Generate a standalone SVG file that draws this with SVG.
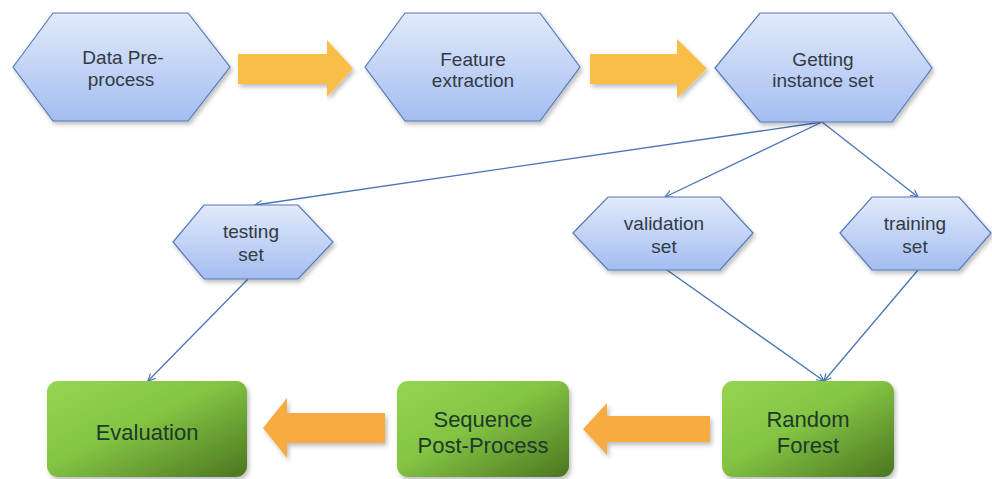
<svg xmlns="http://www.w3.org/2000/svg" width="992" height="479" viewBox="0 0 992 479">
<defs>
  <linearGradient id="hexFill" x1="0" y1="0" x2="0" y2="1">
    <stop offset="0" stop-color="#e2eafb"/>
    <stop offset="1" stop-color="#a3bdf0"/>
  </linearGradient>
  <linearGradient id="boxFill" x1="0" y1="0" x2="1" y2="1">
    <stop offset="0" stop-color="#96d552"/>
    <stop offset="0.45" stop-color="#84c443"/>
    <stop offset="1" stop-color="#4a7620"/>
  </linearGradient>
  <filter id="shadow" x="-10%" y="-10%" width="125%" height="130%">
    <feDropShadow dx="2" dy="3" stdDeviation="2" flood-color="#000" flood-opacity="0.25"/>
  </filter>
  <marker id="open" viewBox="0 0 10 10" refX="9" refY="5" markerWidth="9" markerHeight="9" markerUnits="userSpaceOnUse" orient="auto">
    <path d="M1,1 L9,5 L1,9" fill="none" stroke="#4a74b8" stroke-width="1.3"/>
  </marker>
</defs>
<style>
  .hex { fill: url(#hexFill); stroke: #5579bb; stroke-width: 1.2; filter: url(#shadow); }
  .box { fill: url(#boxFill); filter: url(#shadow); }
  .ht { font-family: "Liberation Sans", Arial, sans-serif; font-size: 19px; fill: #323a46; text-anchor: middle; }
  .bt { font-family: "Liberation Sans", Arial, sans-serif; font-size: 22px; fill: #1c3a2c; text-anchor: middle; }
  .conn { fill: none; stroke: #4a74b8; stroke-width: 1.3; marker-end: url(#open); }
  .arrY { fill: #f9be46; filter: url(#shadow); }
  .arrO { fill: #f7ab40; filter: url(#shadow); }
</style>

<g id="connectors">
  <line class="conn" x1="822" y1="122" x2="255" y2="205"/>
  <line class="conn" x1="822" y1="122" x2="665" y2="197"/>
  <line class="conn" x1="822" y1="122" x2="918" y2="197"/>
  <line class="conn" x1="248" y1="279" x2="148" y2="381"/>
  <line class="conn" x1="667" y1="270" x2="824" y2="381"/>
  <line class="conn" x1="918" y1="270" x2="824" y2="381"/>
</g>

<g id="flow-arrows">
  <polygon class="arrY" points="238,54 327,54 327,40 353,68.5 327,97 327,84 238,84"/>
  <polygon class="arrY" points="590,54 677,54 677,39 707,68.5 677,98 677,84 590,84"/>
  <polygon class="arrO" points="385,413 287,413 287,398 263,428 287,458 287,443 385,443"/>
  <polygon class="arrO" points="710,416 607,416 607,403 583,429 607,455 607,442 710,442"/>
</g>

<g id="node-preprocess">
  <polygon class="hex" points="13,67 53,13 188,13 230,67 188,121 53,121"/>
  <text class="ht" x="123" y="64">Data Pre-</text>
  <text class="ht" x="121" y="86">process</text>
</g>
<g id="node-feature">
  <polygon class="hex" points="365,67 405,13 540,13 580,67 540,121 405,121"/>
  <text class="ht" x="473" y="66">Feature</text>
  <text class="ht" x="473" y="87">extraction</text>
</g>
<g id="node-instance">
  <polygon class="hex" points="715,68 760,13 892,13 932,68 892,122 760,122"/>
  <text class="ht" x="823" y="66">Getting</text>
  <text class="ht" x="823" y="87">instance set</text>
</g>
<g id="node-testing">
  <polygon class="hex" points="173,242 204,205 298,205 333,242 298,279 204,279"/>
  <text class="ht" x="251" y="238">testing</text>
  <text class="ht" x="251" y="261">set</text>
</g>
<g id="node-validation">
  <polygon class="hex" points="573,233 608,197 720,197 753,233 720,270 608,270"/>
  <text class="ht" x="664" y="230">validation</text>
  <text class="ht" x="664" y="253">set</text>
</g>
<g id="node-training">
  <polygon class="hex" points="840,233 872,197 959,197 991,233 959,270 872,270"/>
  <text class="ht" x="915" y="230">training</text>
  <text class="ht" x="915" y="253">set</text>
</g>

<g id="node-evaluation">
  <rect class="box" x="47" y="381" width="200" height="96" rx="11"/>
  <text class="bt" x="147" y="440">Evaluation</text>
</g>
<g id="node-postprocess">
  <rect class="box" x="397" y="381" width="172" height="96" rx="11"/>
  <text class="bt" x="483" y="427">Sequence</text>
  <text class="bt" x="483" y="453">Post-Process</text>
</g>
<g id="node-randomforest">
  <rect class="box" x="722" y="381" width="172" height="96" rx="11"/>
  <text class="bt" x="808" y="427">Random</text>
  <text class="bt" x="808" y="453">Forest</text>
</g>
</svg>
